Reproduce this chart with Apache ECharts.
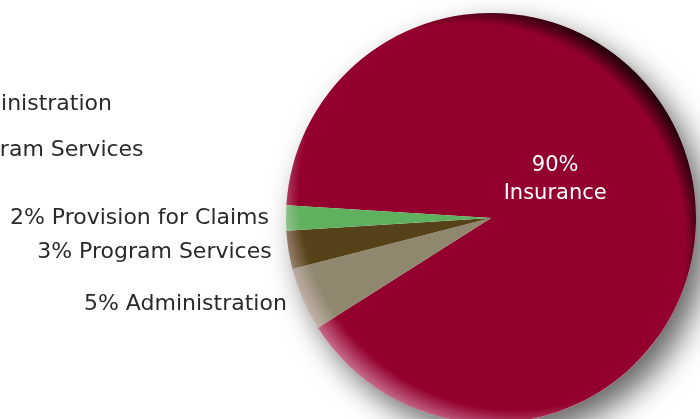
<!DOCTYPE html>
<html>
<head>
<meta charset="utf-8">
<script src="https://cdn.jsdelivr.net/npm/echarts@6/dist/echarts.min.js"></script>
<style>
  html, body { margin: 0; padding: 0; background: #fff; }
  #chart { width: 700px; height: 419px; }
</style>
</head>
<body>
<div id="chart"></div>
<script>
// data
const categories = ['Insurance', 'Administration', 'Program Services', 'Provision for Claims'];
const shares = [90, 5, 3, 2];
const legendItems = ['Administration', 'Program Services'];

// styling
const sliceColors = ['#93002d', '#8f886f', '#554219', '#5fb15f'];
const fontFamily = '"DejaVu Sans", sans-serif';
const fontWeight = 'normal';
const textColor = '#2a2a2a';
const pieCenter = [491, 218];
const pieRadius = 205;

const chart = echarts.init(document.getElementById('chart'), null, { renderer: 'canvas' });

// single full disc, used for the drop shadow and the bevel rims
const discSeries = (z, color, extra) => Object.assign({
    type: 'pie',
    z: z,
    silent: true,
    center: pieCenter,
    radius: pieRadius,
    label: { show: false },
    labelLine: { show: false },
    emphasis: { disabled: true },
    tooltip: { show: false },
    itemStyle: { color: color, borderWidth: 0 },
    data: [{ value: 1, name: '' }]
}, extra || {});

const option = {
    animation: false,
    backgroundColor: '#ffffff',
    legend: {
        orient: 'vertical',
        left: -59,
        top: 88,
        icon: 'none',
        itemWidth: 0,
        itemHeight: 20,
        itemGap: 24,
        selectedMode: false,
        data: legendItems,
        textStyle: { fontFamily: fontFamily, fontWeight: fontWeight, fontSize: 22, color: textColor }
    },
    series: [
        // drop shadow
        discSeries(1, '#ffffff', {
            itemStyle: {
                color: '#ffffff',
                borderWidth: 0,
                shadowColor: 'rgba(0,0,0,0.6)',
                shadowBlur: 30,
                shadowOffsetX: 12,
                shadowOffsetY: 14
            }
        }),
        {
            type: 'pie',
            z: 2,
            center: pieCenter,
            radius: pieRadius,
            startAngle: 176.4,
            clockwise: true,
            avoidLabelOverlap: false,
            label: {
                show: true,
                position: 'outside',
                fontFamily: fontFamily,
                fontWeight: fontWeight,
                fontSize: 22,
                color: textColor,
                formatter: p => p.value + '% ' + p.name
            },
            labelLine: { show: false, length: 12, length2: 0 },
            itemStyle: { borderWidth: 0 },
            data: categories.map((name, i) => {
                const item = { name: name, value: shares[i], itemStyle: { color: sliceColors[i] } };
                if (i === 0) {
                    item.label = {
                        position: 'inside',
                        color: '#ffffff',
                        fontSize: 21,
                        lineHeight: 28,
                        align: 'center',
                        offset: [-38, -12],
                        formatter: p => p.value + '%\n' + p.name
                    };
                }
                return item;
            })
        },
        // dark rim, upper right
        discSeries(3, {
            type: 'radial', x: 0.44, y: 0.56, r: 0.6,
            colorStops: [
                { offset: 0.0, color: 'rgba(20,0,6,0)' },
                { offset: 0.89, color: 'rgba(20,0,6,0)' },
                { offset: 0.97, color: 'rgba(20,0,6,0.9)' },
                { offset: 1.0, color: 'rgba(20,0,6,1)' }
            ]
        }),
        // light rim, lower left
        discSeries(4, {
            type: 'radial', x: 0.56, y: 0.44, r: 0.6,
            colorStops: [
                { offset: 0.0, color: 'rgba(255,230,240,0)' },
                { offset: 0.88, color: 'rgba(255,230,240,0)' },
                { offset: 0.98, color: 'rgba(255,230,240,0.5)' },
                { offset: 1.0, color: 'rgba(255,230,240,0.55)' }
            ]
        })
    ]
};

chart.setOption(option);
window.addEventListener('resize', () => chart.resize());
</script>
</body>
</html>
